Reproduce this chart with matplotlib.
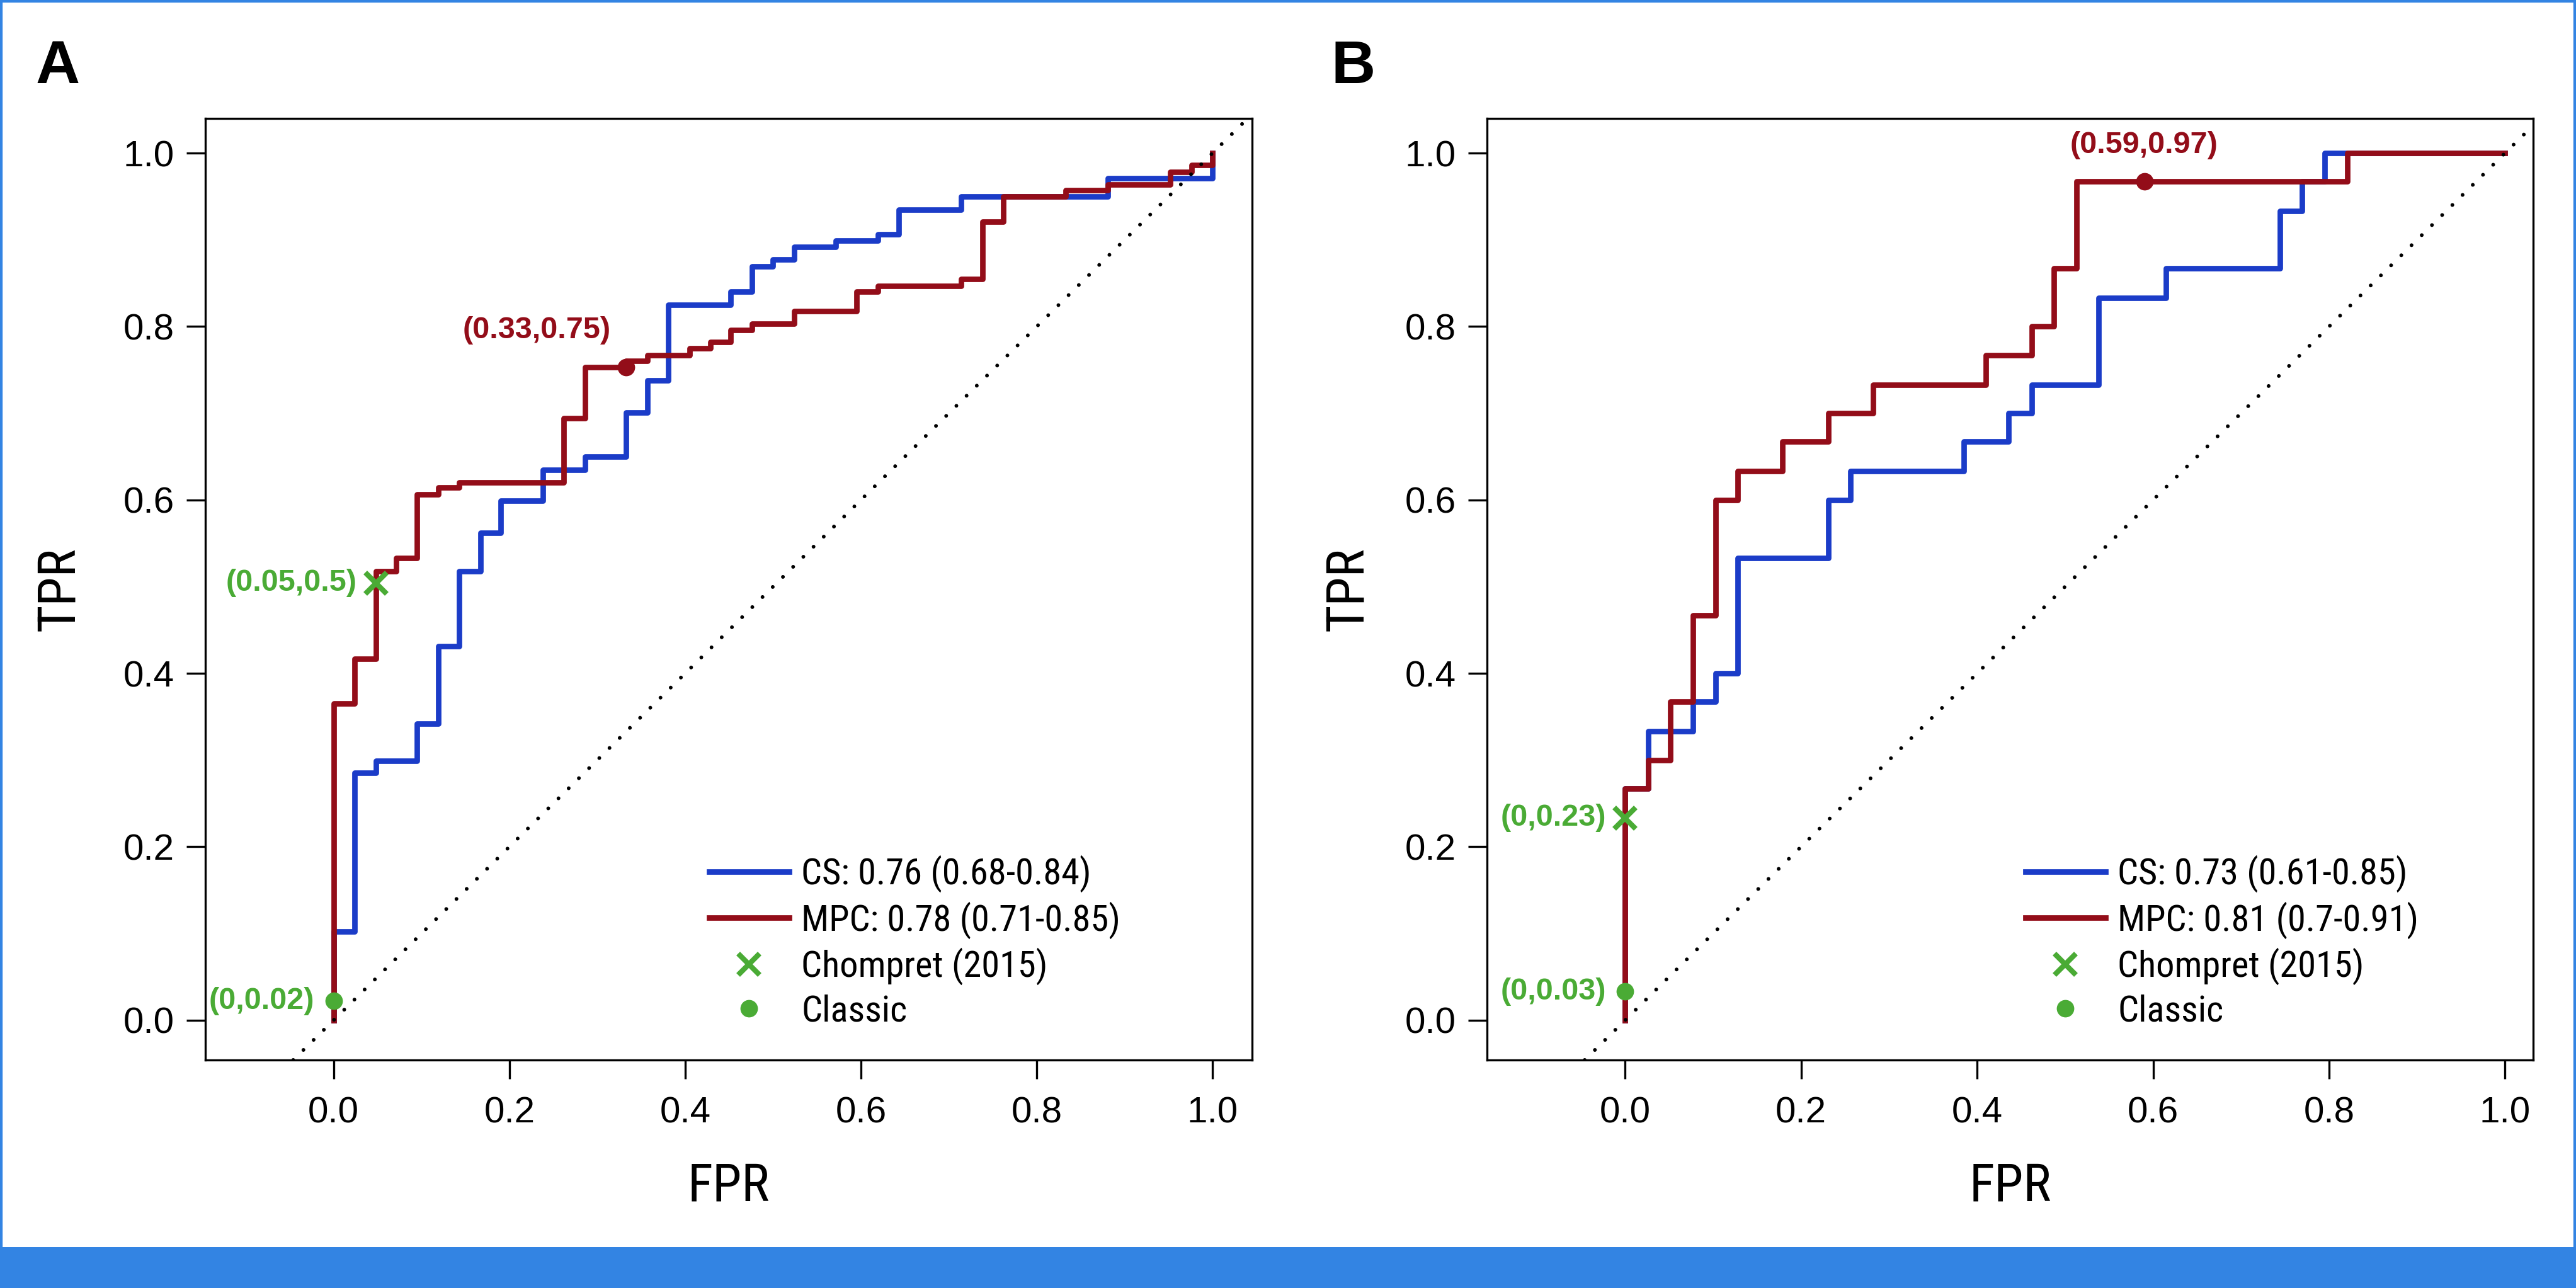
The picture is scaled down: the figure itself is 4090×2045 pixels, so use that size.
import matplotlib
matplotlib.use('Agg')
import matplotlib.pyplot as plt
from matplotlib import font_manager
from matplotlib.patches import Rectangle

BLUE = '#1b3cc8'
RED = '#930d19'
GREEN = '#4aab35'
FRAME = '#3384e3'
SANS = ['Liberation Sans', 'DejaVu Sans']

# pick a condensed face for legend and axis titles
installed = set(f.name for f in font_manager.fontManager.ttflist)
NARROW = ['DejaVu Sans']
for name in ['Liberation Sans Narrow', 'Roboto Condensed', 'Archivo Narrow', 'PT Sans Narrow',
             'Barlow Semi Condensed']:
    if name in installed:
        NARROW = [name, 'DejaVu Sans']
        break
STRETCH = 'condensed' if NARROW == ['DejaVu Sans'] else 'normal'

## panel A (step points)
fpr_cs_a = [0, 0, 0.024, 0.048, 0.095, 0.119, 0.143, 0.167, 0.190, 0.238, 0.286, 0.333,
            0.357, 0.381, 0.452, 0.476, 0.500, 0.524, 0.571, 0.619, 0.643, 0.714, 0.881, 1.0]
tpr_cs_a = [0, 0.102, 0.285, 0.299, 0.342, 0.431, 0.518, 0.562, 0.599, 0.635, 0.650, 0.701,
            0.738, 0.825, 0.840, 0.869, 0.877, 0.892, 0.899, 0.906, 0.935, 0.950, 0.971, 1.0]
fpr_mpc_a = [0, 0, 0.024, 0.048, 0.071, 0.095, 0.119, 0.143, 0.262, 0.286, 0.333, 0.357, 0.405,
             0.429, 0.452, 0.476, 0.524, 0.595, 0.619, 0.714, 0.738, 0.762, 0.833, 0.881, 0.952,
             0.976, 1.0]
tpr_mpc_a = [0, 0.365, 0.417, 0.518, 0.533, 0.606, 0.614, 0.620, 0.694, 0.753, 0.760, 0.767, 0.775,
             0.782, 0.796, 0.803, 0.818, 0.840, 0.847, 0.855, 0.921, 0.950, 0.957, 0.964, 0.978,
             0.986, 1.0]
legend_a = ['CS: 0.76 (0.68-0.84)', 'MPC: 0.78 (0.71-0.85)']
chompret_a = (0.048, 0.504)
classic_a = (0.0, 0.022)
best_a = (0.333, 0.753)
chompret_txt_a = '(0.05,0.5)'
classic_txt_a = '(0,0.02)'
best_txt_a = '(0.33,0.75)'

## panel B
fpr_cs_b = [0, 0, 0.026, 0.077, 0.103, 0.128, 0.231, 0.256, 0.385, 0.436, 0.462, 0.538, 0.615,
            0.744, 0.769, 0.795, 1.0]
tpr_cs_b = [0, 0.267, 0.333, 0.367, 0.400, 0.533, 0.600, 0.633, 0.667, 0.700, 0.733, 0.833, 0.867,
            0.933, 0.967, 1.0, 1.0]
fpr_mpc_b = [0, 0, 0.026, 0.051, 0.077, 0.103, 0.128, 0.179, 0.231, 0.282, 0.410, 0.462, 0.487,
             0.513, 0.821, 1.0]
tpr_mpc_b = [0, 0.267, 0.300, 0.367, 0.467, 0.600, 0.633, 0.667, 0.700, 0.733, 0.767, 0.800, 0.867,
             0.967, 1.0, 1.0]
legend_b = ['CS: 0.73 (0.61-0.85)', 'MPC: 0.81 (0.7-0.91)']
chompret_b = (0.0, 0.233)
classic_b = (0.0, 0.033)
best_b = (0.590, 0.967)
chompret_txt_b = '(0,0.23)'
classic_txt_b = '(0,0.03)'
best_txt_b = '(0.59,0.97)'

ticks = [0.0, 0.2, 0.4, 0.6, 0.8, 1.0]
tick_labels = ['0.0', '0.2', '0.4', '0.6', '0.8', '1.0']

W, H = 4090, 2045
fig = plt.figure(figsize=(W / 100, H / 100), dpi=100)


def panel(rect, letter, letter_x, cs, mpc, labels, chom, classic, best, txts, best_off, best_ha,
          xlim, leg_x):
    ax = fig.add_axes(rect)
    ax.plot(cs[0], cs[1], drawstyle='steps-post', color=BLUE, lw=6.3, label=labels[0], zorder=3)
    ax.plot(mpc[0], mpc[1], drawstyle='steps-post', color=RED, lw=6.3, label=labels[1], zorder=4)
    ax.plot([chom[0]], [chom[1]], 'x', color=GREEN, ms=24, mew=6, label='Chompret (2015)', zorder=6)
    ax.plot([classic[0]], [classic[1]], 'o', color=GREEN, ms=20, mew=0, label='Classic', zorder=6)
    ax.plot([best[0]], [best[1]], 'o', color=RED, ms=20, mew=0, zorder=6)
    ax.axline((0, 0), (1, 1), color='black', lw=4.3, ls=(0, (0.01, 3.8)),
              dash_capstyle='round', zorder=5)

    ax.annotate(txts[0], xy=chom, xytext=(-22, 0), textcoords='offset points', ha='right',
                va='center', fontsize=35, fontweight='bold', color=GREEN, family=SANS)
    ax.annotate(txts[1], xy=classic, xytext=(-22, 0), textcoords='offset points', ha='right',
                va='center', fontsize=35, fontweight='bold', color=GREEN, family=SANS)
    ax.annotate(txts[2], xy=best, xytext=best_off, textcoords='offset points', ha=best_ha,
                va='center', fontsize=35, fontweight='bold', color=RED, family=SANS)

    ax.set_xlim(*xlim)
    ax.set_ylim(-0.046, 1.04)
    ax.set_xticks(ticks)
    ax.set_xticklabels(tick_labels, family=SANS)
    ax.set_yticks(ticks)
    ax.set_yticklabels(tick_labels, family=SANS)
    ax.tick_params(axis='both', length=21.6, width=2.4, labelsize=42)
    ax.tick_params(axis='x', pad=20)
    ax.tick_params(axis='y', pad=14)
    for s in ax.spines.values():
        s.set_linewidth(2.4)

    ax.set_xlabel('FPR', fontsize=60, family=NARROW, fontstretch=STRETCH)
    ax.xaxis.label.set_va('center')
    ax.xaxis.set_label_coords(0.5, -0.134)
    ax.set_ylabel('TPR', fontsize=60, family=NARROW, fontstretch=STRETCH)
    ax.yaxis.label.set_va('center')
    ax.yaxis.set_label_coords(-0.1396 if letter == 'A' else -0.133, 0.5)

    ax.legend(loc='upper left', bbox_to_anchor=(leg_x, 1 - 1358 / H), bbox_transform=fig.transFigure,
              frameon=False, prop=dict(family=NARROW, size=42, stretch=STRETCH), handlelength=2.17,
              handletextpad=0.34, labelspacing=0.24, borderpad=0, borderaxespad=0)

    fig.text(letter_x, 1 - 62 / H, letter, fontsize=70, fontweight='bold', family=SANS,
             ha='left', va='top')
    return ax


panel([326 / W, (H - 1683) / H, 1662 / W, 1495 / H], 'A', 57 / W,
      (fpr_cs_a, tpr_cs_a), (fpr_mpc_a, tpr_mpc_a), legend_a,
      chompret_a, classic_a, best_a, (chompret_txt_a, classic_txt_a, best_txt_a),
      (-18, 42), 'right', (-0.146, 1.045), 1126 / W)
panel([2361 / W, (H - 1683) / H, 1661 / W, 1495 / H], 'B', 2113 / W,
      (fpr_cs_b, tpr_cs_b), (fpr_mpc_b, tpr_mpc_b), legend_b,
      chompret_b, classic_b, best_b, (chompret_txt_b, classic_txt_b, best_txt_b),
      (0, 42), 'center', (-0.157, 1.032), 3216 / W)

# blue frame and bottom band
fig.patches.append(Rectangle((0, 0), 1, 1, transform=fig.transFigure, fill=False,
                             edgecolor=FRAME, lw=6))
fig.patches.append(Rectangle((0, 0), 1, 65 / H, transform=fig.transFigure, color=FRAME, lw=0))

fig.savefig('out.png', dpi=100)
